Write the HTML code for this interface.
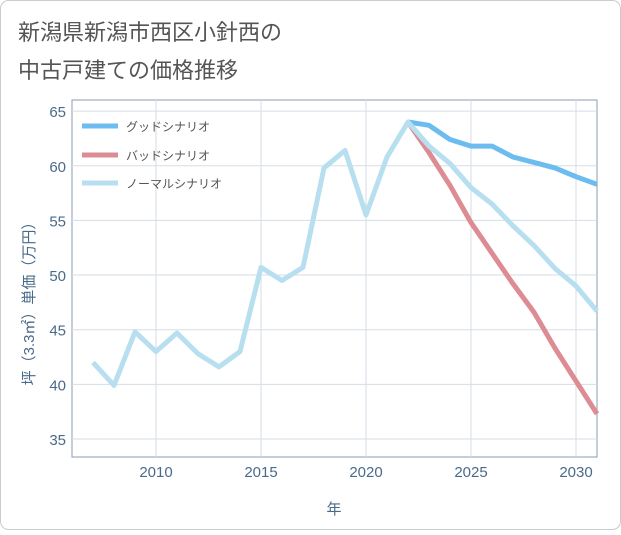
<!DOCTYPE html>
<html><head><meta charset="utf-8"><style>
body{margin:0;background:#fff;}
svg text{font-family:"Liberation Sans","Noto Sans CJK JP",sans-serif;}
</style></head><body>
<svg id="c" width="621" height="530">
<rect x="0.5" y="0.5" width="620" height="529" rx="8" fill="#fff" stroke="#ccc"/>
<text x="18" y="40" font-size="22" fill="#555">新潟県新潟市西区小針西の</text>
<text x="18" y="78" font-size="22" fill="#555">中古戸建ての価格推移</text>
<rect x="72" y="100" width="525" height="357" fill="none" stroke="#8a9cb0"/>
<g id="grid"></g><g id="ticks"></g><g id="lines"></g>
<text x="34" y="300" font-size="15" fill="#4a6a8a" transform="rotate(-90 34 300)" text-anchor="middle">坪（3.3㎡）単価（万円）</text>
<text x="334" y="514" font-size="15" fill="#4a6a8a" text-anchor="middle">年</text>
<g>
<line x1="82" y1="126" x2="118" y2="126" stroke="#6cbcf0" stroke-width="5"/><text x="126" y="131" font-size="12" fill="#555">グッドシナリオ</text>
<line x1="82" y1="155" x2="118" y2="155" stroke="#de8c94" stroke-width="5"/><text x="126" y="160" font-size="12" fill="#555">バッドシナリオ</text>
<line x1="82" y1="183" x2="118" y2="183" stroke="#b8dff0" stroke-width="5"/><text x="126" y="188" font-size="12" fill="#555">ノーマルシナリオ</text>
</g>
</svg>
<script>
const normalYears=[2007,2008,2009,2010,2011,2012,2013,2014,2015,2016,2017,2018,2019,2020,2021,2022,2023,2024,2025,2026,2027,2028,2029,2030,2031];
const normalValues=[42,39.9,44.8,43,44.7,42.8,41.6,43,50.7,49.5,50.7,59.8,61.4,55.5,60.8,64,61.8,60.2,58,56.5,54.5,52.7,50.6,49,46.7];
const scenarioYears=[2022,2023,2024,2025,2026,2027,2028,2029,2030,2031];
const goodValues=[64,63.7,62.4,61.8,61.8,60.8,60.3,59.8,59,58.3];
const badValues=[64,61.2,58.2,54.8,52,49.2,46.6,43.3,40.3,37.3];
const xTicks=[2010,2015,2020,2025,2030];
const yTicks=[35,40,45,50,55,60,65];
const NS='http://www.w3.org/2000/svg';
const X=y=>72+(y-2006)*21;
const Y=v=>439-(v-35)*10.93;
function mk(t,a,p){const e=document.createElementNS(NS,t);for(const k in a)e.setAttribute(k,a[k]);document.getElementById(p).appendChild(e);return e;}
xTicks.forEach(t=>{
 const l=mk('line',{x1:X(t),x2:X(t),y1:100,y2:457,stroke:'#d5dde6'},'grid');
 
 
 const s=mk('text',{x:X(t),y:477,'font-size':15,fill:'#4a6a8a','text-anchor':'middle'},'ticks');s.textContent=t;
 
 
});
yTicks.forEach(t=>{
 const l=mk('line',{x1:72,x2:597,y1:Y(t),y2:Y(t),stroke:'#d5dde6'},'grid');
 
 
 const s=mk('text',{x:66,y:Y(t)+6,'font-size':15,fill:'#4a6a8a','text-anchor':'end'},'ticks');s.textContent=t;
 
 
});
function line(xs,vs,c,n){
 const p=mk('polyline',{points:xs.map((x,i)=>X(x)+','+Y(vs[i])).join(' '),fill:'none',stroke:c,'stroke-width':5,'stroke-linejoin':'round'},'lines');
 
 
}
line(scenarioYears,goodValues,'#6cbcf0','good-scenario-line');
line(scenarioYears,badValues,'#de8c94','bad-scenario-line');
line(normalYears,normalValues,'#b8dff0','normal-scenario-line');
</script>
</body></html>
